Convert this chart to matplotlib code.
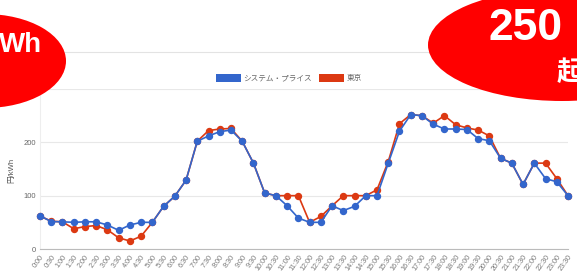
import matplotlib
matplotlib.use("Agg")
import matplotlib.pyplot as plt
from matplotlib.patches import Ellipse, Patch
from matplotlib.lines import Line2D

plt.rcParams['font.family'] = ['Liberation Sans', 'Noto Sans CJK JP', 'DejaVu Sans']

times = ["0:00", "0:30", "1:00", "1:30", "2:00", "2:30", "3:00", "3:30", "4:00", "4:30",
         "5:00", "5:30", "6:00", "6:30", "7:00", "7:30", "8:00", "8:30", "9:00", "9:30",
         "10:00", "10:30", "11:00", "11:30", "12:00", "12:30", "13:00", "13:30", "14:00", "14:30",
         "15:00", "15:30", "16:00", "16:30", "17:00", "17:30", "18:00", "18:30", "19:00", "19:30",
         "20:00", "20:30", "21:00", "21:30", "22:00", "22:30", "23:00", "23:30"]

system_price = [62, 51.5, 51, 50, 51, 51, 45, 35, 45, 50,
                50, 80, 99, 129, 202, 212, 220, 223, 202, 161,
                105, 100, 81, 58, 50, 50, 81, 72, 80, 100,
                100, 161, 221, 252, 250, 234, 225, 225, 224, 207,
                203, 170, 161, 121, 161, 132, 126, 100]

tokyo = [62, 52, 51, 38, 42, 44, 36, 21, 15, 24,
         50, 80, 99, 129, 202, 222, 225, 226, 202, 161,
         105, 100, 100, 100, 50, 61, 81, 100, 100, 100,
         111, 164, 235, 252, 250, 236, 250, 233, 227, 223,
         212, 170, 161, 121, 161, 161, 132, 100]

series_names = ["システム・プライス", "東京"]
y_ticks = [0, 100, 200, 300]
y_label = "円/kWh"
badge_left = "Wh"
badge_right_top = "250"
badge_right_bottom = "起"

W, H = 577, 271
fig = plt.figure(figsize=(W / 100, H / 100), dpi=100)
L, R, B, T = 40, 568, 249, 89
ax = fig.add_axes([L / W, 1 - B / H, (R - L) / W, (B - T) / H])

blue = "#3366CC"
red = "#DC3912"
x = list(range(len(times)))
ax.plot(x, tokyo, color=red, lw=1.2, marker='o', ms=4.3, zorder=3, clip_on=False)
ax.plot(x, system_price, color=blue, lw=1.2, marker='o', ms=4.3, zorder=4, clip_on=False)

ax.set_xlim(0, len(times) - 1)
ax.set_ylim(0, 300)
ax.set_yticks(y_ticks)
ax.set_yticklabels([str(v) for v in y_ticks], fontsize=5.5, color="#666666")
ax.set_xticks(x)
ax.set_xticklabels(times, rotation=55, ha='right', rotation_mode='anchor',
                   fontsize=5.2, color="#777777")
ax.tick_params(axis='both', length=0, pad=3)
ax.grid(axis='y', color="#e8e8e8", lw=0.8)
ax.set_axisbelow(True)
for s in ['top', 'right']:
    ax.spines[s].set_visible(False)
ax.spines['left'].set_color("#eeeeee")
ax.spines['left'].set_linewidth(0.8)
ax.spines['bottom'].set_color("#bbbbbb")
ax.spines['bottom'].set_linewidth(0.8)

fig.text(12 / W, 1 - 170 / H, y_label, rotation=90, fontsize=5.5, color="#555555",
         ha='center', va='center')

handles = [Patch(facecolor=blue, edgecolor='none'), Patch(facecolor=red, edgecolor='none')]
fig.legend(handles, series_names, loc='center', bbox_to_anchor=(289 / W, 1 - 78 / H),
           ncol=2, frameon=False, fontsize=5.5, handlelength=3.2, handleheight=1.3,
           handletextpad=0.4, columnspacing=0.9, labelcolor="#666666")

# top separator line
fig.add_artist(Line2D([0, 1], [1 - 52 / H, 1 - 52 / H], transform=fig.transFigure,
                      color="#e3e3e3", lw=0.8))

# red badges
fig.add_artist(Ellipse(((-15) / W, 1 - 61 / H), 162 / W, 94 / H, transform=fig.transFigure,
                       facecolor="#FF0000", edgecolor='none', zorder=10))
fig.add_artist(Ellipse((562 / W, 1 - 45 / H), 268 / W, 112 / H, transform=fig.transFigure,
                       facecolor="#FF0000", edgecolor='none', zorder=10))
fig.text(-1 / W, 1 - 45 / H, badge_left, color='white', fontsize=20, fontweight='bold',
         ha='left', va='center', zorder=11)
fig.text(489 / W, 1 - 29 / H, badge_right_top, color='white', fontsize=32, fontweight='bold',
         ha='left', va='center', zorder=11)
fig.text(557 / W, 1 - 72 / H, badge_right_bottom, color='white', fontsize=19, fontweight='bold',
         ha='left', va='center', zorder=11)

fig.savefig("out.png", dpi=100)
